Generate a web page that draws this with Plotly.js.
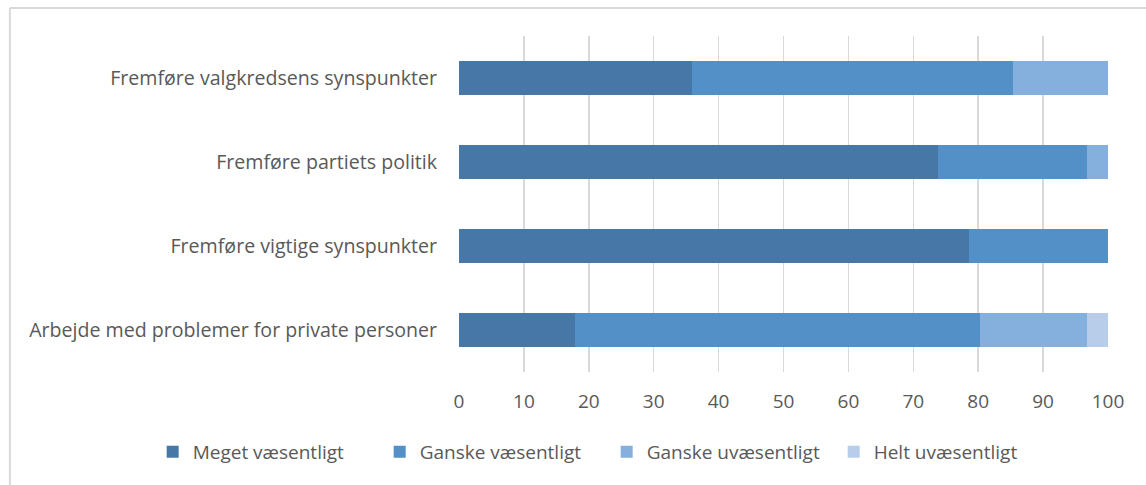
<!DOCTYPE html>
<html>
<head>
<meta charset="utf-8">
<script src="https://cdn.plot.ly/plotly-3.0.1.min.js"></script>
<style>
  html, body { margin: 0; padding: 0; background: #fff; }
  #chart { width: 1146px; height: 485px; }
</style>
</head>
<body>
<div id="chart"></div>
<script>
// categories, top to bottom as in the picture
var categories = [
    'Fremføre valgkredsens synspunkter',
    'Fremføre partiets politik',
    'Fremføre vigtige synspunkter',
    'Arbejde med problemer for private personer'
];

var seriesNames = ['Meget væsentligt', 'Ganske væsentligt', 'Ganske uvæsentligt', 'Helt uvæsentligt'];

// percentages
var meget = [35.9, 73.8, 78.6, 17.9];
var ganske = [49.4, 23.0, 21.4, 62.4];
var ganskeUv = [14.7, 3.2, 0, 16.5];
var heltUv = [0, 0, 0, 3.2];

var xTicks = [0, 10, 20, 30, 40, 50, 60, 70, 80, 90, 100];

var colors = ['#4677a7', '#5290c7', '#85afdc', '#b7cdea'];
var values = [meget, ganske, ganskeUv, heltUv];

var data = values.map(function(v, i) {
    return {
        type: 'bar',
        orientation: 'h',
        name: seriesNames[i],
        x: v,
        y: categories,
        marker: { color: colors[i], line: { width: 0 } },
        hoverinfo: 'x+name'
    };
});

var fontFam = '"Open Sans", sans-serif';
var txt = { family: fontFam, size: 19, color: '#595959' };

var layout = {
    width: 1146,
    height: 485,
    barmode: 'stack',
    bargap: 0.595,
    paper_bgcolor: '#ffffff',
    plot_bgcolor: '#ffffff',
    margin: { l: 459, r: 38, t: 36, b: 113 },
    font: txt,
    xaxis: {
        range: [0, 100],
        tickvals: xTicks,
        ticktext: xTicks.map(String),
        showgrid: true,
        gridcolor: '#d9d9d9',
        gridwidth: 1.5,
        zeroline: false,
        showline: false,
        ticks: 'outside',
        ticklen: 12,
        tickcolor: 'rgba(0,0,0,0)',
        tickfont: txt,
        fixedrange: true
    },
    yaxis: {
        autorange: 'reversed',
        showgrid: false,
        zeroline: false,
        showline: false,
        ticks: 'outside',
        ticklen: 17,
        tickcolor: 'rgba(0,0,0,0)',
        tickfont: { family: fontFam, size: 19.6, color: '#595959' },
        fixedrange: true
    },
    showlegend: true,
    legend: {
        orientation: 'h',
        x: -0.472,
        xanchor: 'left',
        y: -0.238,
        yanchor: 'middle',
        font: txt,
        itemwidth: 30,
        entrywidth: 182,
        entrywidthmode: 'pixels',
        traceorder: 'normal'
    },
    shapes: [
        { type: 'line', xref: 'paper', yref: 'paper', x0: -0.692, x1: 1.06, y0: 1.083, y1: 1.083,
          line: { color: '#d9d9d9', width: 2 } },
        { type: 'line', xref: 'paper', yref: 'paper', x0: -0.692, x1: -0.692, y0: 1.083, y1: -0.35,
          line: { color: '#d9d9d9', width: 2 } }
    ]
};

Plotly.newPlot('chart', data, layout, { displayModeBar: false, staticPlot: true });
</script>
</body>
</html>
